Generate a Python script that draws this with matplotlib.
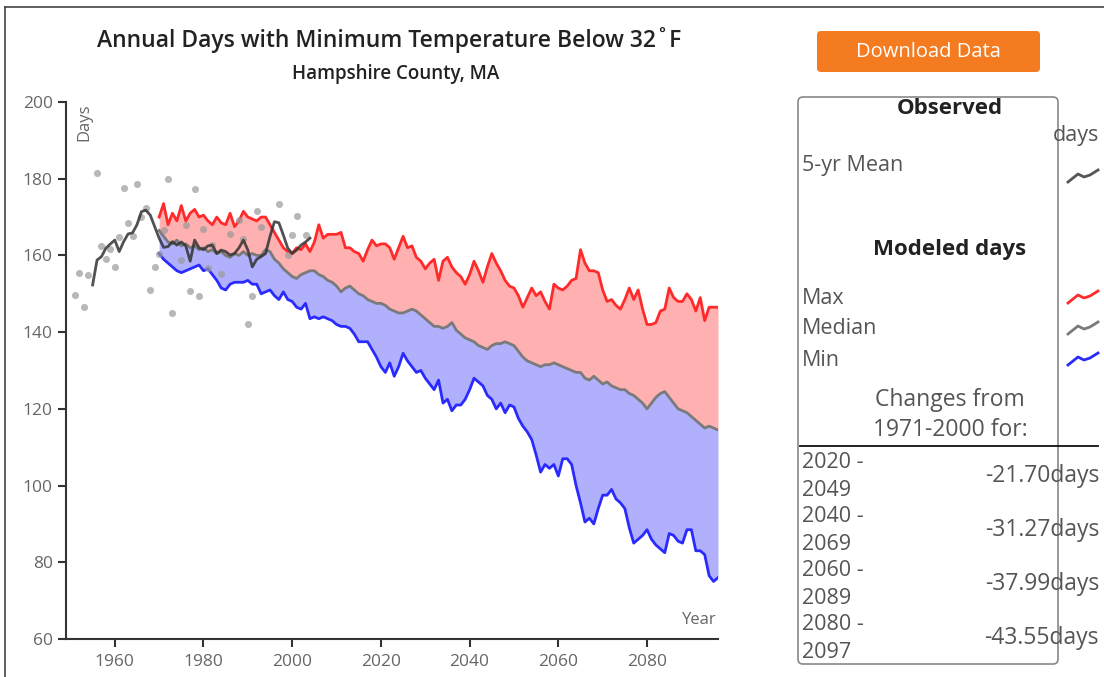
"""Jours annuels avec minimale sous 32F - Hampshire County, MA (observe + modele)."""

import matplotlib

matplotlib.use("Agg")
import matplotlib.pyplot as plt
import numpy as np
from matplotlib.patches import FancyBboxPatch

W, H = 1104, 677

# Observed annual values (grey dots)
OBS_YEARS = [1951, 1952, 1953, 1954, 1956, 1957, 1958, 1959, 1960, 1961, 1962, 1963,
             1964, 1965, 1966, 1967, 1968, 1969, 1970, 1971, 1972, 1973, 1975, 1976,
             1977, 1978, 1979, 1980, 1981, 1982, 1984, 1986, 1988, 1989, 1990, 1991,
             1992, 1993, 1997, 1999, 2000, 2001, 2003]
OBS_DAYS = [149.7, 155.5, 146.6, 155.0, 181.4, 162.5, 159.0, 161.8, 157.0, 164.7, 177.5, 168.4,
            165.1, 178.5, 170.1, 172.3, 151.0, 157.0, 160.5, 166.6, 179.8, 144.9, 158.8, 167.9,
            150.6, 177.2, 149.3, 167.0, 156.6, 162.7, 155.1, 165.6, 169.2, 164.3, 142.0, 149.3,
            171.6, 167.3, 173.3, 160.1, 165.2, 170.3, 165.2]

# 5-yr mean, 1955-2004
MEAN_START = 1955
MEAN_5YR = [152.3, 158.8, 159.7, 161.9, 163.0, 164.0, 161.0, 163.6, 165.6, 165.9,
            168.0, 171.4, 171.8, 170.5, 167.5, 164.5, 162.1, 162.3, 163.6, 162.7,
            163.5, 162.5, 158.5, 164.0, 162.0, 161.5, 162.5, 162.7, 160.5, 161.4,
            161.0, 160.1, 160.5, 162.0, 164.0, 161.4, 157.0, 159.0, 159.7, 160.5,
            165.0, 168.8, 168.5, 165.3, 161.9, 160.5, 161.4, 162.7, 163.5, 164.5]

# Modeled series, 1970-2096
MODEL_START = 1970
MODEL_MAX = [
    170.0, 173.5, 168.0, 171.0, 169.0, 173.0, 169.0, 171.0, 172.0, 170.0,
    170.5, 169.0, 168.0, 170.0, 168.5, 168.0, 171.0, 167.5, 169.0, 171.5,
    170.0, 169.5, 169.0, 170.0, 170.0, 168.0, 166.0, 164.0, 162.0, 161.0,
    160.5, 162.0, 161.5, 163.0, 161.0, 163.5, 168.0, 164.5, 165.5, 165.5,
    165.5, 166.0, 162.0, 162.0, 161.0, 160.5, 158.5, 161.5, 164.0, 162.5,
    163.0, 163.0, 162.0, 159.0, 162.0, 165.0, 162.0, 162.5, 159.5, 158.5,
    156.5, 158.0, 159.0, 153.5, 158.5, 159.5, 157.0, 155.5, 154.5, 152.5,
    155.0, 158.5, 156.0, 153.0, 157.0, 160.5, 158.0, 156.0, 153.5, 152.0,
    151.5, 149.5, 146.5, 149.0, 151.5, 149.5, 150.5, 148.0, 146.0, 152.5,
    151.5, 151.0, 152.0, 153.5, 154.0, 161.5, 158.0, 156.0, 156.0, 155.5,
    151.0, 148.0, 148.5, 147.0, 146.0, 148.5, 151.5, 148.5, 151.0, 146.0,
    142.0, 142.0, 142.5, 145.5, 146.0, 151.5, 149.0, 148.0, 148.0, 150.0,
    148.5, 145.5, 149.0, 143.0, 146.5, 146.5, 146.5,
]
MODEL_MEDIAN = [
    166.5, 165.0, 163.5, 163.0, 164.0, 162.5, 163.0, 162.0, 162.5, 161.5,
    162.0, 161.0, 161.5, 160.5, 161.0, 160.0, 159.5, 160.5, 160.0, 161.0,
    160.0, 160.5, 160.0, 160.0, 161.5, 161.0, 159.0, 158.0, 156.5, 155.5,
    154.5, 154.0, 155.0, 155.5, 156.0, 156.0, 155.0, 154.5, 153.5, 153.0,
    152.0, 150.5, 151.5, 152.0, 151.0, 150.0, 149.5, 148.5, 148.0, 147.5,
    147.5, 147.0, 146.0, 145.5, 145.0, 145.0, 145.5, 146.0, 145.5, 144.5,
    143.5, 142.5, 141.5, 141.5, 141.0, 141.5, 142.5, 140.5, 139.5, 138.5,
    138.0, 137.5, 136.5, 136.0, 135.5, 136.5, 137.0, 137.0, 137.5, 137.0,
    136.5, 135.0, 133.5, 132.5, 132.0, 131.5, 131.0, 131.5, 131.5, 132.0,
    131.5, 131.0, 130.5, 130.0, 129.5, 129.5, 128.0, 127.5, 128.5, 127.5,
    126.5, 127.0, 126.0, 125.5, 125.0, 125.0, 124.0, 123.5, 122.5, 121.5,
    120.0, 121.5, 123.0, 124.0, 124.5, 123.0, 121.5, 120.0, 119.5, 119.0,
    118.0, 117.0, 116.0, 115.0, 115.5, 115.0, 114.5,
]
MODEL_MIN = [
    160.5, 159.0, 158.0, 157.0, 156.0, 155.5, 156.0, 156.5, 157.0, 157.5,
    156.0, 156.5, 155.0, 153.5, 151.5, 151.0, 152.5, 153.0, 153.0, 153.0,
    153.5, 152.5, 152.5, 150.0, 150.5, 151.0, 149.5, 148.5, 150.5, 148.5,
    148.0, 146.5, 146.0, 147.5, 143.5, 144.0, 143.5, 144.0, 143.5, 143.0,
    142.0, 141.5, 141.5, 141.0, 139.5, 137.5, 137.5, 137.5, 135.5, 133.5,
    131.0, 129.5, 132.0, 128.5, 131.0, 134.5, 132.5, 131.0, 129.5, 130.0,
    128.0, 126.5, 125.0, 127.5, 121.5, 122.5, 119.5, 121.0, 121.0, 122.5,
    125.0, 128.0, 127.0, 126.0, 123.5, 122.5, 120.0, 121.5, 119.0, 121.0,
    120.5, 117.5, 115.5, 114.0, 112.0, 108.0, 103.5, 105.5, 104.5, 105.5,
    102.5, 107.0, 107.0, 105.5, 100.0, 95.5, 90.5, 91.5, 90.0, 94.0,
    97.5, 97.5, 99.0, 96.5, 95.5, 94.0, 89.0, 85.0, 86.0, 87.0,
    88.5, 86.0, 84.5, 83.5, 82.5, 87.5, 87.0, 85.5, 85.0, 88.5,
    88.5, 83.0, 83.0, 82.0, 76.5, 75.0, 76.0,
]

CHANGE_PERIODS = [("2020 -", "2049"), ("2040 -", "2069"), ("2060 -", "2089"), ("2080 -", "2097")]
CHANGE_VALUES = [-21.70, -31.27, -37.99, -43.55]

FONT = ["Open Sans", "DejaVu Sans"]
INK = "#222222"
INK_SOFT = "#555555"
TICK_INK = "#666666"
LEGEND_SIZE = 15.5


def draw_chart(fig):
    ax = fig.add_axes([66 / W, 1 - 639 / H, (718 - 66) / W, (639 - 102) / H], zorder=2)
    ax.set_facecolor("none")

    years = np.arange(MODEL_START, MODEL_START + len(MODEL_MEDIAN))
    ax.fill_between(years, MODEL_MEDIAN, MODEL_MAX, color="#ffb0b0", lw=0, zorder=1)
    ax.fill_between(years, MODEL_MIN, MODEL_MEDIAN, color="#b0b0fc", lw=0, zorder=1)
    ax.plot(years, MODEL_MAX, color="#ff2a2a", lw=2, zorder=3)
    ax.plot(years, MODEL_MEDIAN, color="#7a7a7a", lw=2, zorder=3)
    ax.plot(years, MODEL_MIN, color="#2a2aff", lw=2, zorder=3)

    ax.scatter(OBS_YEARS, OBS_DAYS, s=26, color="#9a9a9a", alpha=0.7, lw=0, zorder=4)
    mean_years = np.arange(MEAN_START, MEAN_START + len(MEAN_5YR))
    ax.plot(mean_years, MEAN_5YR, color="#333333", lw=2, alpha=0.85, zorder=5)

    ax.set_xlim(1949, 2096)
    ax.set_ylim(60, 200)
    ax.set_xticks(range(1960, 2081, 20))
    ax.set_yticks(range(60, 201, 20))
    for spine in ("top", "right"):
        ax.spines[spine].set_visible(False)
    for spine in ("left", "bottom"):
        ax.spines[spine].set_color("#333333")
        ax.spines[spine].set_linewidth(1.5)
    ax.tick_params(length=6, width=1.5, color="#333333", labelcolor=TICK_INK, labelsize=12.5)
    ax.tick_params(axis="x", pad=5)
    for lab in ax.get_xticklabels() + ax.get_yticklabels():
        lab.set_family(FONT)

    ax.text(0.028, 0.998, "Days", transform=ax.transAxes, rotation=90, ha="center", va="top",
            fontsize=12, color=TICK_INK, family=FONT)
    ax.text(0.998, 0.02, "Year", transform=ax.transAxes, ha="right", va="bottom",
            fontsize=12, color=TICK_INK, family=FONT)
    return ax


def draw_panel(fig):
    # overlay in pixel coordinates for titles, button and the side legend
    ov = fig.add_axes([0, 0, 1, 1], zorder=1)
    ov.set_xlim(0, W)
    ov.set_ylim(H, 0)
    ov.axis("off")

    ov.plot([5, W], [7, 7], color="#444444", lw=1.2)
    ov.plot([5, 5], [7, H], color="#444444", lw=1.2)

    ov.text(389, 40, "Annual Days with Minimum Temperature Below 32\u02daF", ha="center",
            va="center", fontsize=16.5, fontweight="semibold", color=INK, family=FONT)
    ov.text(396, 74, "Hampshire County, MA", ha="center", va="center", fontsize=13.5,
            fontweight="semibold", color=INK, family=FONT)

    ov.add_patch(FancyBboxPatch((817, 31), 223, 41, boxstyle="round,pad=0,rounding_size=4",
                                fc="#f47b20", ec="none"))
    ov.text(928.5, 52, "Download Data", ha="center", va="center", fontsize=14.5,
            color="white", family=FONT)

    ov.add_patch(FancyBboxPatch((798, 97), 260, 567, boxstyle="round,pad=0,rounding_size=5",
                                fc="none", ec="#888888", lw=1.2))

    ov.text(950, 108, "Observed", ha="center", va="center", fontsize=16, fontweight="bold",
            color=INK, family=FONT)
    ov.text(1099, 135, "days", ha="right", va="center", fontsize=LEGEND_SIZE, color=INK_SOFT,
            family=FONT)
    ov.text(802, 165, "5-yr Mean", ha="left", va="center", fontsize=LEGEND_SIZE, color=INK_SOFT,
            family=FONT)
    ov.text(950, 249, "Modeled days", ha="center", va="center", fontsize=16, fontweight="bold",
            color=INK, family=FONT)

    glyph_x = [1068, 1078, 1084, 1090, 1098]
    glyph_dy = [6, -2, 1, -1, -6]
    rows = [(176, "#555555", None), (297, "#ff2a2a", "Max"), (328, "#7a7a7a", "Median"),
            (359, "#2a2aff", "Min")]
    for y, color, label in rows:
        ov.plot(glyph_x, [y + d for d in glyph_dy], color=color, lw=2)
        if label:
            ov.text(802, y + 1, label, ha="left", va="center", fontsize=LEGEND_SIZE,
                    color=INK_SOFT, family=FONT)

    ov.text(950, 400, "Changes from", ha="center", va="center", fontsize=16.5, color=INK_SOFT,
            family=FONT)
    ov.text(950, 430, "1971-2000 for:", ha="center", va="center", fontsize=16.5, color=INK_SOFT,
            family=FONT)
    ov.plot([800, 1098], [446, 446], color="#111111", lw=1.3)

    for i, ((start, end), val) in enumerate(zip(CHANGE_PERIODS, CHANGE_VALUES)):
        top = 463 + i * 54
        ov.text(802, top, start, ha="left", va="center", fontsize=LEGEND_SIZE, color=INK_SOFT,
                family=FONT)
        ov.text(802, top + 27, end, ha="left", va="center", fontsize=LEGEND_SIZE,
                color=INK_SOFT, family=FONT)
        ov.text(1099, top + 13, f"{val:.2f}days", ha="right", va="center", fontsize=16.5,
                color=INK_SOFT, family=FONT)


def main():
    fig = plt.figure(figsize=(W / 100, H / 100), dpi=100)
    fig.patch.set_facecolor("white")
    draw_panel(fig)
    draw_chart(fig)
    fig.savefig("out.png", dpi=100)
    plt.close(fig)


if __name__ == "__main__":
    main()
